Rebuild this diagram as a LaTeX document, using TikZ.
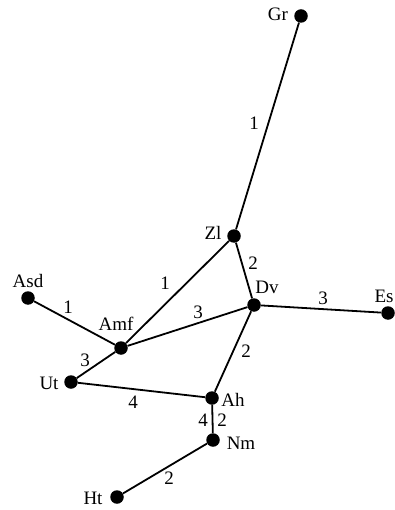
\documentclass[tikz,border=0pt]{standalone}
\usepackage{fontspec}
\setmainfont{Liberation Serif}
\begin{document}
\begin{tikzpicture}[x=1pt,y=-1pt,
  dot/.style={circle,fill=black,inner sep=0pt,minimum size=13.5pt},
  lbl/.style={font=\fontsize{19}{22}\selectfont,inner sep=0pt},
  link/.style={line width=1.8pt}]
\useasboundingbox (0,0) rectangle (395,510);
\node[dot,label={[lbl,xshift=-23pt,yshift=2pt]center:Gr}] (Gr) at (301,16) {};
\node[dot,label={[lbl,xshift=-21pt,yshift=3pt]center:Zl}] (Zl) at (234,236) {};
\node[dot,label={[lbl,xshift=13pt,yshift=18pt]center:Dv}] (Dv) at (254,305) {};
\node[dot,label={[lbl,xshift=-4pt,yshift=17pt]center:Es}] (Es) at (388,313) {};
\node[dot,label={[lbl,xshift=0pt,yshift=17pt]center:Asd}] (Asd) at (28,298) {};
\node[dot,label={[lbl,xshift=-5pt,yshift=24pt]center:Amf}] (Amf) at (121,348) {};
\node[dot,label={[lbl,xshift=-22pt,yshift=-1pt]center:Ut}] (Ut) at (71,382) {};
\node[dot,label={[lbl,xshift=21pt,yshift=-2pt]center:Ah}] (Ah) at (212,398) {};
\node[dot,label={[lbl,xshift=28pt,yshift=-3pt]center:Nm}] (Nm) at (213,440) {};
\node[dot,label={[lbl,xshift=-24pt,yshift=-1pt]center:Ht}] (Ht) at (117,497) {};
\draw[link] (Gr) -- node[lbl,xshift=-13.5pt,yshift=3pt] {1} (Zl);
\draw[link] (Zl) -- node[lbl,xshift=9pt,yshift=7.5pt] {2} (Dv);
\draw[link] (Amf) -- node[lbl,xshift=-12.5pt,yshift=9pt] {1} (Zl);
\draw[link] (Amf) -- node[lbl,xshift=10.5pt,yshift=14.5pt] {3} (Dv);
\draw[link] (Dv) -- node[lbl,xshift=2pt,yshift=11pt] {3} (Es);
\draw[link] (Asd) -- node[lbl,xshift=-6.5pt,yshift=16pt] {1} (Amf);
\draw[link] (Amf) -- node[lbl,xshift=-11pt,yshift=5pt] {3} (Ut);
\draw[link] (Ut) -- node[lbl,xshift=-8.5pt,yshift=-12pt] {4} (Ah);
\draw[link] (Dv) -- node[lbl,xshift=13pt,yshift=0pt] {2} (Ah);
\draw[link] (Ah) -- node[lbl,xshift=-9.5pt,yshift=-1pt] {4} node[lbl,xshift=9.5pt,yshift=-1pt] {2} (Nm);
\draw[link] (Nm) -- node[lbl,xshift=4pt,yshift=-9.5pt] {2} (Ht);
\end{tikzpicture}
\end{document}
